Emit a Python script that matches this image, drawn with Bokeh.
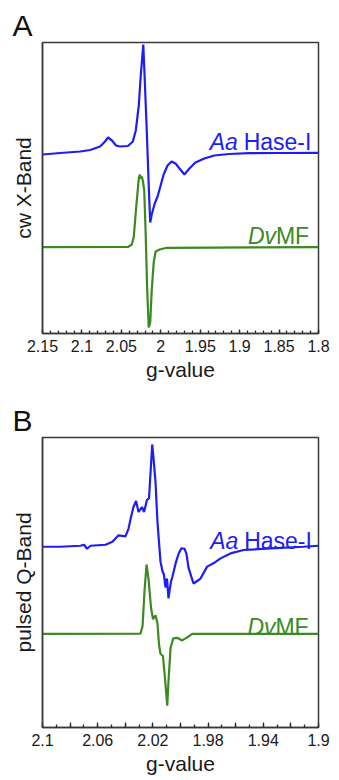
import numpy as np
from bokeh.plotting import figure
from bokeh.models import Range1d, FixedTicker, Label
from bokeh.layouts import column
from bokeh.embed import file_html
from bokeh.resources import INLINE

# ---------------- data (g-value, intensity in arbitrary units) ----------------
# Panel A: cw X-band
a_aa_g = [2.150, 2.1273, 2.1022, 2.0896, 2.0770, 2.0707, 2.0669, 2.0619, 2.0568, 2.0518,
          2.0417, 2.0354, 2.0317, 2.0279, 2.0254, 2.0222, 2.0203, 2.0178, 2.0153, 2.0134,
          2.0115, 2.0077, 2.0040, 2.0002, 1.9964, 1.9914, 1.9863, 1.9813, 1.9763, 1.9700,
          1.9637, 1.9561, 1.9448, 1.9322, 1.9133, 1.8881, 1.8504, 1.8000]
a_aa_i = [-1.5, 0, 1.5, 3, 6.5, 11.5, 15.5, 12.5, 7.5, 6.5,
          7, 11.5, 22.5, 47.5, 77.5, 108.5, 72.5, 22.5, -32.5, -69.5,
          -61.5, -50.5, -43.5, -32.5, -21.5, -12.5, -8.5, -10.5, -15.5, -21.5,
          -15.5, -9.5, -5.5, -2.5, -1, -0.2, 0, 0.2]
a_dv_g = [2.150, 2.0417, 2.0367, 2.0342, 2.0310, 2.0279, 2.0266, 2.0254, 2.0241, 2.0228,
          2.0210, 2.0191, 2.0172, 2.0153, 2.0134, 2.0115, 2.0090, 2.0065, 2.0014, 1.9926, 1.8000]
a_dv_i = [0, 0.2, 2.7, 10.7, 41.7, 68.7, 72.7, 68.7, 70.7, 66.7,
          56.7, 11.7, -43.3, -80.3, -75.3, -43.3, -15.3, -4.3, -2.3, -0.6, 0]

# Panel B: pulsed Q-band
b_aa_g = [2.1000, 2.0870, 2.0725, 2.0699, 2.0678, 2.0652, 2.0543, 2.0493, 2.0449, 2.0399,
          2.0377, 2.0362, 2.0341, 2.0322, 2.0304, 2.0279, 2.0264, 2.0243, 2.0228, 2.0217,
          2.0205, 2.0196, 2.0181, 2.0167, 2.0145, 2.0130, 2.0120, 2.0109, 2.0098, 2.0087,
          2.0080, 2.0069, 2.0058, 2.0036, 2.0014, 1.9993, 1.9971, 1.9957, 1.9942, 1.9924,
          1.9906, 1.9884, 1.9855, 1.9807, 1.9761, 1.9710, 1.9638, 1.9543, 1.9348, 1.9109, 1.9000]
b_aa_i = [0, 0, 1, 2, -2, 1, 2, 5, 11.5, 10.5,
          18, 28, 40, 46, 35, 40, 35, 47, 49, 75,
          103, 90, 65, 25, -15, -25, -28, -41, -32, -52,
          -45, -35, -30, -17, -7, -1.5, -2, -7, -21, -29,
          -37, -35, -32, -20, -16.7, -11.7, -6.7, -3.3, -1.7, 0, 1]
b_dv_g = [2.1000, 2.0290, 2.0275, 2.0261, 2.0246, 2.0232, 2.0214, 2.0199, 2.0181, 2.0167,
          2.0156, 2.0145, 2.0127, 2.0116, 2.0105, 2.0096, 2.0087, 2.0072, 2.0053, 2.0024,
          1.9988, 1.9957, 1.9915, 1.9000]
b_dv_i = [0, 0.2, 7.7, 42.7, 69.7, 55.7, 26.7, 14.7, 18.7, 10.7,
          -10.3, -20.3, -22.3, -39.3, -57.3, -72.3, -47.3, -14.3, -4.6, -4,
          -6.6, -4, 0, 0]

# vertical stacking offsets of the traces
a_offsets = {"aa": 180.5, "dv": 86.3}
b_offsets = {"aa": 182.0, "dv": 94.3}

# tick labels
a_ticks = [2.15, 2.1, 2.05, 2.0, 1.95, 1.9, 1.85, 1.8]
a_tick_labels = ["2.15", "2.1", "2.05", "2", "1.95", "1.9", "1.85", "1.8"]
b_ticks = [2.1, 2.08, 2.06, 2.04, 2.02, 2.0, 1.98, 1.96, 1.94, 1.92, 1.9]
b_tick_labels = ["2.1", "", "2.06", "", "2.02", "", "1.98", "", "1.94", "", "1.9"]

BLUE = "#1e1ef2"
GREEN = "#3b8a1f"
FONT = "Liberation Sans"
FRAME = "#3a3a3a"


def make_panel(letter, ylabel, xr, yr, height, top, bottom, right,
               ticks, tick_labels, minor, tin, tmin,
               aa_g, aa_i, dv_g, dv_i, offs, aa_pos, dv_pos):
    p = figure(width=339, height=height, output_backend="svg", toolbar_location=None,
               x_range=Range1d(*xr), y_range=Range1d(*yr),
               min_border_left=42, min_border_right=right,
               min_border_top=top, min_border_bottom=bottom)
    p.background_fill_color = "white"
    p.border_fill_color = "white"
    p.outline_line_color = FRAME
    p.outline_line_width = 1.5
    p.xgrid.visible = False
    p.ygrid.visible = False

    # panel letter as the title
    p.title.text = letter
    p.title.text_font = FONT
    p.title.text_font_size = "30px"
    p.title.text_font_style = "normal"
    p.title.text_color = "#111111"
    p.title.align = "left"
    p.title.offset = -30
    p.title.standoff = 2

    xa = p.xaxis[0]
    xa.ticker = FixedTicker(ticks=ticks, minor_ticks=minor)
    xa.major_label_overrides = dict(zip(ticks, tick_labels))
    xa.major_tick_in = tin
    xa.major_tick_out = 0
    xa.minor_tick_in = tmin
    xa.minor_tick_out = 0
    xa.axis_line_color = FRAME
    xa.axis_line_width = 1.5
    xa.major_tick_line_color = "#2a2a2a"
    xa.major_tick_line_width = 1.3
    xa.minor_tick_line_color = "#2a2a2a"
    xa.minor_tick_line_width = 1.3
    xa.major_label_text_font = FONT
    xa.major_label_text_font_size = "16px"
    xa.major_label_text_color = "#1a1a1a"
    xa.major_label_standoff = 6
    xa.axis_label = "g-value"
    xa.axis_label_text_font = FONT
    xa.axis_label_text_font_size = "21px"
    xa.axis_label_text_font_style = "normal"
    xa.axis_label_text_color = "#1a1a1a"
    xa.axis_label_standoff = 3

    ya = p.yaxis[0]
    ya.ticker = FixedTicker(ticks=[])
    ya.major_tick_line_color = None
    ya.minor_tick_line_color = None
    ya.axis_line_color = FRAME
    ya.axis_line_width = 1.5
    ya.axis_label = ylabel
    ya.axis_label_text_font = FONT
    ya.axis_label_text_font_size = "21px"
    ya.axis_label_text_font_style = "normal"
    ya.axis_label_text_color = "#1a1a1a"
    ya.axis_label_standoff = 8

    p.line(aa_g, np.array(aa_i) + offs["aa"], line_color=BLUE, line_width=2.2)
    p.line(dv_g, np.array(dv_i) + offs["dv"], line_color=GREEN, line_width=2.2)

    fs = 23
    p.add_layout(Label(x=aa_pos[0], y=aa_pos[1], text="Aa", text_color=BLUE,
                       text_font=FONT, text_font_size=f"{fs}px", text_font_style="italic",
                       text_align="left", text_baseline="alphabetic"))
    p.add_layout(Label(x=aa_pos[0], y=aa_pos[1], x_offset=round(1.50 * fs), text="Hase-I",
                       text_color=BLUE, text_font=FONT, text_font_size=f"{fs}px",
                       text_align="left", text_baseline="alphabetic"))
    p.add_layout(Label(x=dv_pos[0], y=dv_pos[1], text="Dv", text_color=GREEN,
                       text_font=FONT, text_font_size=f"{fs}px", text_font_style="italic",
                       text_align="left", text_baseline="alphabetic"))
    p.add_layout(Label(x=dv_pos[0], y=dv_pos[1], x_offset=round(1.222 * fs), text="MF",
                       text_color=GREEN, text_font=FONT, text_font_size=f"{fs}px",
                       text_align="left", text_baseline="alphabetic"))
    return p


a_minor = [round(v, 2) for v in np.arange(1.80, 2.1501, 0.01)]
b_minor = [round(v, 2) for v in np.arange(1.90, 2.1001, 0.01)]

pA = make_panel("A", "cw X-Band", (2.15, 1.80), (0, 291), 400, 42, 67, 19,
                a_ticks, a_tick_labels, a_minor, 4, 3,
                a_aa_g, a_aa_i, a_dv_g, a_dv_i, a_offsets,
                (1.938, 191.3), (1.8895, 98.0))
pB = make_panel("B", "pulsed Q-Band", (2.10, 1.90), (0, 292), 380, 35, 53, 21,
                b_ticks, b_tick_labels, b_minor, 5, 3,
                b_aa_g, b_aa_i, b_dv_g, b_dv_i, b_offsets,
                (1.9785, 187.7), (1.9515, 101.3))

layout = column(pA, pB, spacing=0)
open("out.html", "w").write(file_html(layout, INLINE))
